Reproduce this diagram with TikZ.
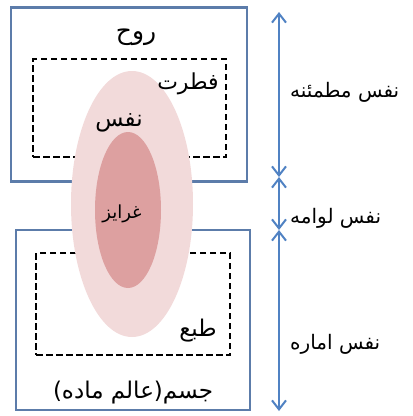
\documentclass[tikz,border=0pt]{standalone}
\usepackage{fontspec}
\newfontfamily\arabicfont[Script=Arabic]{DejaVu Sans}
\TeXXeTstate=1
\usetikzlibrary{shapes.geometric, arrows.meta, positioning, calc}
\definecolor{framecolor}{RGB}{92, 124, 170}
\definecolor{arrowcolor}{RGB}{80, 130, 195}
\definecolor{outercolor}{RGB}{242, 218, 218}
\definecolor{innercolor}{RGB}{221, 160, 160}

\begin{document}
\begin{tikzpicture}[
    x=1pt, y=-1pt,
    realm/.style={
        rectangle,
        draw=framecolor,
        line width=2.2pt,
        inner sep=0pt
    },
    region/.style={
        rectangle,
        draw=black,
        line width=2.8pt,
        dash pattern=on 6.5pt off 3.5pt,
        inner sep=0pt
    },
    soul/.style={
        ellipse,
        inner sep=0pt
    },
    word/.style={
        font=\arabicfont,
        inner sep=1pt
    },
    level/.style={
        font=\arabicfont\fontsize{20}{22}\selectfont,
        anchor=west,
        inner sep=1pt
    },
    span/.style={
        draw=arrowcolor,
        line width=2pt,
        {Straight Barb[length=9pt, width=14pt]}-{Straight Barb[length=9pt, width=14pt]}
    }
]

% Bounding box of the picture
\useasboundingbox (0,0) rectangle (413,416);

% Spirit box and body box
\node[realm, minimum width=236pt, minimum height=174pt] (spirit) at (129,94.5) {};
\node[realm, minimum width=234pt, minimum height=180pt] (body) at (133,320) {};

% Dashed inner regions
\node[region, minimum width=193pt, minimum height=98pt] (fitrat) at (129.5,108) {};
\node[region, minimum width=194pt, minimum height=102pt] (nature) at (133,304) {};

% Soul ellipses
\node[soul, fill=outercolor, minimum width=122pt, minimum height=266pt] (nafs) at (132,204) {};
\node[soul, fill=innercolor, minimum width=66pt, minimum height=156pt] (instinct) at (128,210) {};

% Labels inside the picture
\node[word, font=\arabicfont\fontsize{25}{27}\selectfont] (spiritlabel) at (136,37) {\beginR روح\endR};
\node[word, font=\arabicfont\fontsize{22}{24}\selectfont] (fitratlabel) at (188,84) {\beginR فطرت\endR};
\node[word, font=\arabicfont\fontsize{23}{25}\selectfont] (nafslabel) at (119,123) {\beginR نفس\endR};
\node[word, font=\arabicfont\fontsize{18}{20}\selectfont] (instinctlabel) at (122,214) {\beginR غرایز\endR};
\node[word, font=\arabicfont\fontsize{23}{25}\selectfont] (naturelabel) at (198,331) {\beginR طبع\endR};
\node[word, font=\arabicfont\fontsize{23}{25}\selectfont] (bodylabel) at (133,393) {\beginR جسم(عالم ماده)\endR};

% Levels of the soul on the right
\coordinate (levtop) at (279,12);
\coordinate (levmid) at (279,177);
\coordinate (levlow) at (279,230);
\coordinate (levbot) at (279,411);

\draw[span] (levtop) -- (levmid);
\draw[span] (levmid) -- (levlow);
\draw[span] (levlow) -- (levbot);

\node[level] (calm) at (289,92) {\beginR نفس مطمئنه\endR};
\node[level] (blame) at (289,218) {\beginR نفس لوامه\endR};
\node[level] (command) at (289,344) {\beginR نفس اماره\endR};

\end{tikzpicture}
\end{document}
